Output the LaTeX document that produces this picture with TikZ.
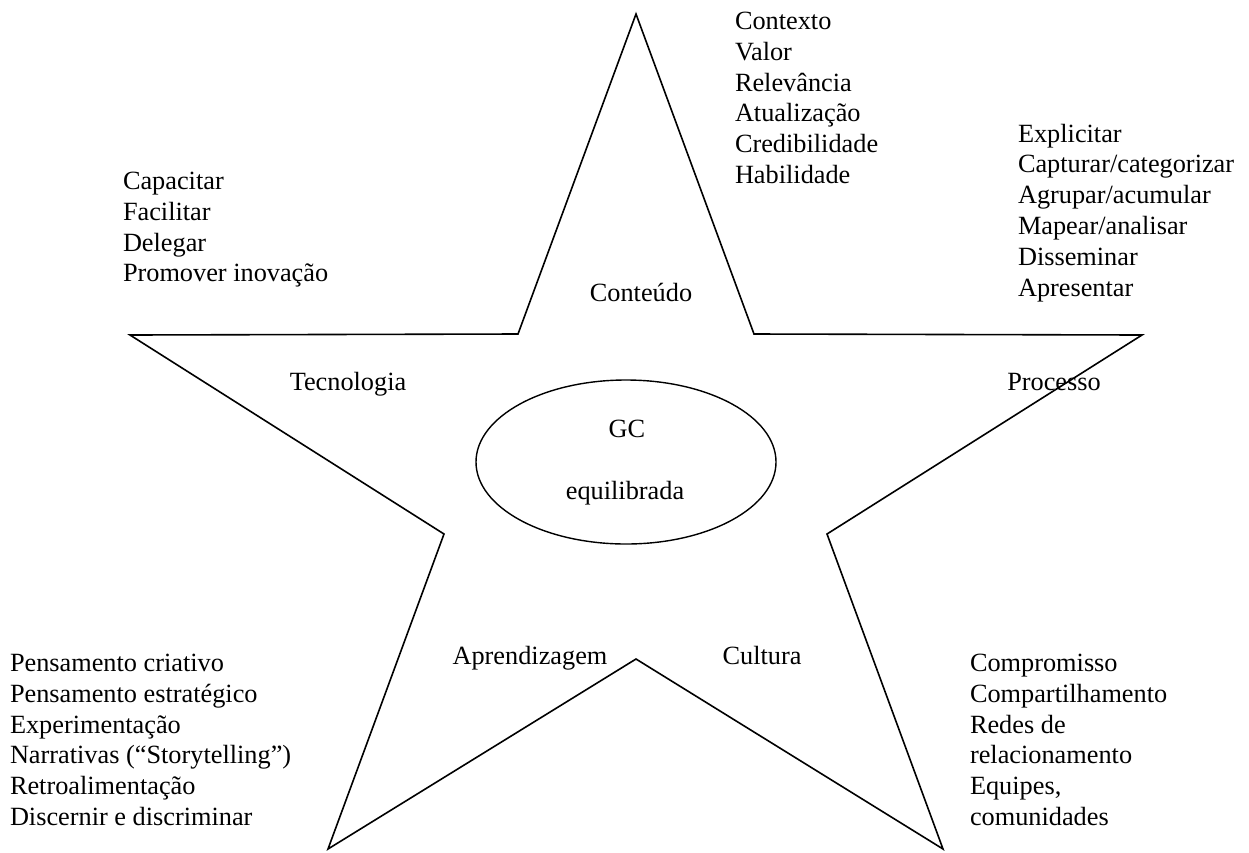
\documentclass[tikz,border=0pt]{standalone}
\usepackage{fontspec}
\setmainfont{Liberation Serif}
\begin{document}
\begin{tikzpicture}[x=1pt,y=-1pt,
  every node/.style={inner sep=0pt, outer sep=0pt,
    font=\fontsize{26.3}{30.8}\selectfont},
  outline/.style={draw=black, line width=1.6pt, line join=miter},
  axislabel/.style={anchor=base},
  itemlist/.style={anchor=base west}]
\useasboundingbox (0,0) rectangle (1249,852);

% five-pointed star
\coordinate (tTop) at (636,14);
\coordinate (iUR)  at (754,334);
\coordinate (tR)   at (1142,335);
\coordinate (iLR)  at (827,534);
\coordinate (tBR)  at (943,849);
\coordinate (iB)   at (636,659);
\coordinate (tBL)  at (328,849);
\coordinate (iLL)  at (444,534);
\coordinate (tL)   at (130,335);
\coordinate (iUL)  at (518,334);
\draw[outline] (tTop) -- (iUR) -- (tR) -- (iLR) -- (tBR) -- (iB)
  -- (tBL) -- (iLL) -- (tL) -- (iUL) -- cycle;

% centre ellipse
\draw[outline, line width=1.4pt] (626,462) ellipse [x radius=150, y radius=82];
\node[axislabel] (gc)  at (627,437) {GC};
\node[axislabel] (eq)  at (625,499) {equilibrada};

% dimension names inside the arms
\node[axislabel] (conteudo)    at (641,301) {Conteúdo};
\node[axislabel] (tecnologia)  at (348,390) {Tecnologia};
\node[axislabel] (processo)    at (1054,390) {Processo};
\node[axislabel] (aprend)      at (530,664) {Aprendizagem};
\node[axislabel] (cultura)     at (762,664) {Cultura};

% attribute lists beside each point
\node[itemlist] (listConteudo) at (735,29.5) {\begin{tabular}[t]{@{}l@{}}
  Contexto\\ Valor\\ Relevância\\ Atualização\\ Credibilidade\\ Habilidade
\end{tabular}};
\node[itemlist] (listProcesso) at (1018,142) {\begin{tabular}[t]{@{}l@{}}
  Explicitar\\ Capturar/categorizar\\ Agrupar/acumular\\ Mapear/analisar\\
  Disseminar\\ Apresentar
\end{tabular}};
\node[itemlist] (listTecnologia) at (123,189.5) {\begin{tabular}[t]{@{}l@{}}
  Capacitar\\ Facilitar\\ Delegar\\ Promover inovação
\end{tabular}};
\node[itemlist] (listAprend) at (10,671.5) {\begin{tabular}[t]{@{}l@{}}
  Pensamento criativo\\ Pensamento estratégico\\ Experimentação\\
  Narrativas (“Storytelling”)\\ Retroalimentação\\ Discernir e discriminar
\end{tabular}};
\node[itemlist] (listCultura) at (970,671.5) {\begin{tabular}[t]{@{}l@{}}
  Compromisso\\ Compartilhamento\\ Redes de\\ relacionamento\\
  Equipes,\\ comunidades
\end{tabular}};
\end{tikzpicture}
\end{document}
